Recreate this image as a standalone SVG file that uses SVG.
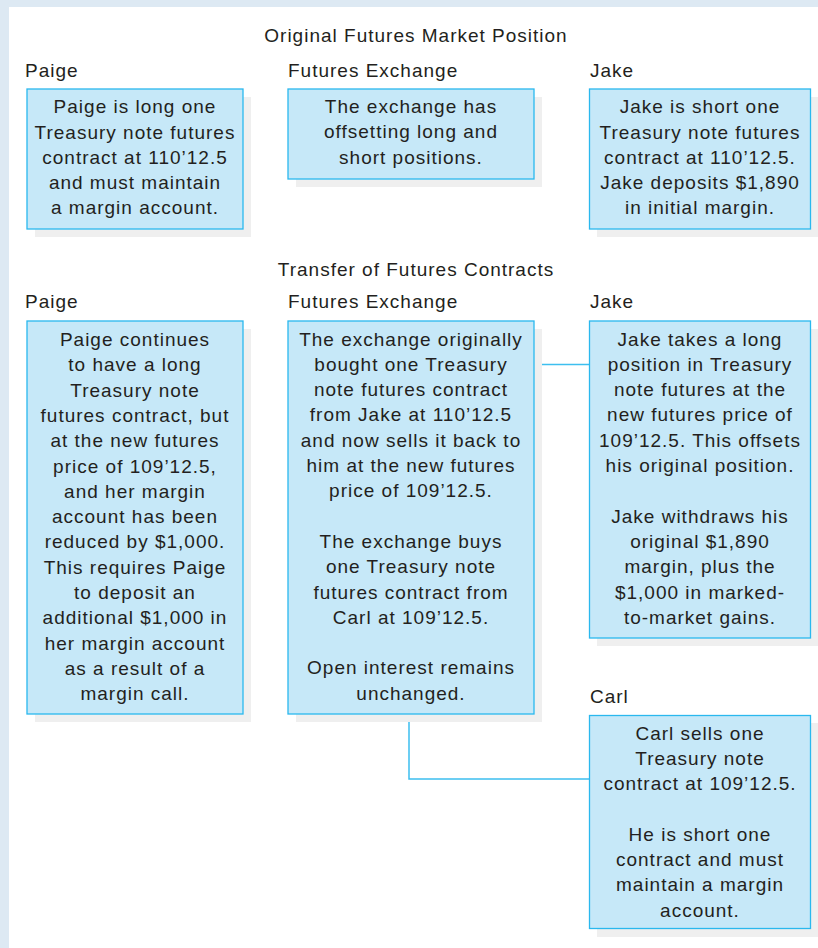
<svg xmlns="http://www.w3.org/2000/svg" width="818" height="948" viewBox="0 0 818 948">
  <defs>
    <style>
      .frame { fill: #dde9f3; }
      .panel { fill: #ffffff; }
      .shadow { fill: #efefef; }
      .box { fill: #c6e8f8; stroke: #2ab8ee; stroke-width: 1.3; }
      .wire { fill: none; stroke: #3dbfef; stroke-width: 1.5; }
      text { font-family: "Liberation Sans", Arial, Helvetica, sans-serif; font-size: 19px; letter-spacing: 1px; fill: #231f20; }
      .mid { text-anchor: middle; }
    </style>
  </defs>

  <!-- outer frame and white panel -->
  <rect class="frame" x="0" y="0" width="818" height="948"/>
  <rect class="panel" x="9" y="7" width="809" height="941"/>

  <!-- section headings -->
  <text class="mid" x="416" y="42">Original Futures Market Position</text>
  <text class="mid" x="416" y="276">Transfer of Futures Contracts</text>

  <!-- connectors -->
  <g id="connectors">
    <path class="wire" d="M534 364.5 H589"/>
    <path class="wire" d="M409 714 V779 H589"/>
  </g>

  <!-- original position -->
  <g id="paige-original">
    <text x="25" y="77">Paige</text>
    <rect class="shadow" x="35" y="97" width="216" height="140"/>
    <rect class="box" x="27" y="89" width="216" height="140"/>
    <text class="mid" x="135" y="113.3">Paige is long one</text>
    <text class="mid" x="135" y="138.5">Treasury note futures</text>
    <text class="mid" x="135" y="163.7">contract at 110’12.5</text>
    <text class="mid" x="135" y="188.9">and must maintain</text>
    <text class="mid" x="135" y="214.1">a margin account.</text>
  </g>

  <g id="exchange-original">
    <text x="288" y="77">Futures Exchange</text>
    <rect class="shadow" x="296" y="97" width="246" height="90"/>
    <rect class="box" x="288" y="89" width="246" height="90"/>
    <text class="mid" x="411" y="113">The exchange has</text>
    <text class="mid" x="411" y="138.3">offsetting long and</text>
    <text class="mid" x="411" y="163.5">short positions.</text>
  </g>

  <g id="jake-original">
    <text x="590" y="77">Jake</text>
    <rect class="shadow" x="597" y="97" width="221" height="140"/>
    <rect class="box" x="589.5" y="89" width="221" height="140"/>
    <text class="mid" x="700" y="113.3">Jake is short one</text>
    <text class="mid" x="700" y="138.5">Treasury note futures</text>
    <text class="mid" x="700" y="163.7">contract at 110’12.5.</text>
    <text class="mid" x="700" y="188.9">Jake deposits $1,890</text>
    <text class="mid" x="700" y="214.1">in initial margin.</text>
  </g>

  <!-- transfer of contracts -->
  <g id="paige-transfer">
    <text x="25" y="308">Paige</text>
    <rect class="shadow" x="35" y="329" width="216" height="393"/>
    <rect class="box" x="27" y="321" width="216" height="393"/>
    <text class="mid" x="135" y="346">Paige continues</text>
    <text class="mid" x="135" y="371.3">to have a long</text>
    <text class="mid" x="135" y="396.6">Treasury note</text>
    <text class="mid" x="135" y="421.9">futures contract, but</text>
    <text class="mid" x="135" y="447.2">at the new futures</text>
    <text class="mid" x="135" y="472.5">price of 109’12.5,</text>
    <text class="mid" x="135" y="497.8">and her margin</text>
    <text class="mid" x="135" y="523.1">account has been</text>
    <text class="mid" x="135" y="548.4">reduced by $1,000.</text>
    <text class="mid" x="135" y="573.7">This requires Paige</text>
    <text class="mid" x="135" y="599">to deposit an</text>
    <text class="mid" x="135" y="624.3">additional $1,000 in</text>
    <text class="mid" x="135" y="649.6">her margin account</text>
    <text class="mid" x="135" y="674.9">as a result of a</text>
    <text class="mid" x="135" y="700.2">margin call.</text>
  </g>

  <g id="exchange-transfer">
    <text x="288" y="308">Futures Exchange</text>
    <rect class="shadow" x="296" y="329" width="246" height="393"/>
    <rect class="box" x="288" y="321" width="246" height="393"/>
    <text class="mid" x="411" y="345.5">The exchange originally</text>
    <text class="mid" x="411" y="370.8">bought one Treasury</text>
    <text class="mid" x="411" y="396.1">note futures contract</text>
    <text class="mid" x="411" y="421.4">from Jake at 110’12.5</text>
    <text class="mid" x="411" y="446.7">and now sells it back to</text>
    <text class="mid" x="411" y="472">him at the new futures</text>
    <text class="mid" x="411" y="497.3">price of 109’12.5.</text>
    <text class="mid" x="411" y="547.9">The exchange buys</text>
    <text class="mid" x="411" y="573.2">one Treasury note</text>
    <text class="mid" x="411" y="598.5">futures contract from</text>
    <text class="mid" x="411" y="623.8">Carl at 109’12.5.</text>
    <text class="mid" x="411" y="674.4">Open interest remains</text>
    <text class="mid" x="411" y="699.7">unchanged.</text>
  </g>

  <g id="jake-transfer">
    <text x="590" y="308">Jake</text>
    <rect class="shadow" x="597" y="329" width="221" height="317"/>
    <rect class="box" x="589.5" y="321" width="221" height="317"/>
    <text class="mid" x="700" y="345.5">Jake takes a long</text>
    <text class="mid" x="700" y="370.8">position in Treasury</text>
    <text class="mid" x="700" y="396.1">note futures at the</text>
    <text class="mid" x="700" y="421.4">new futures price of</text>
    <text class="mid" x="700" y="446.7">109’12.5. This offsets</text>
    <text class="mid" x="700" y="472">his original position.</text>
    <text class="mid" x="700" y="522.6">Jake withdraws his</text>
    <text class="mid" x="700" y="547.9">original $1,890</text>
    <text class="mid" x="700" y="573.2">margin, plus the</text>
    <text class="mid" x="700" y="598.5">$1,000 in marked-</text>
    <text class="mid" x="700" y="623.8">to-market gains.</text>
  </g>

  <g id="carl">
    <text x="590" y="703">Carl</text>
    <rect class="shadow" x="597" y="723" width="221" height="214"/>
    <rect class="box" x="589.5" y="715.5" width="221" height="213"/>
    <text class="mid" x="700" y="739.6">Carl sells one</text>
    <text class="mid" x="700" y="764.9">Treasury note</text>
    <text class="mid" x="700" y="790.2">contract at 109’12.5.</text>
    <text class="mid" x="700" y="840.8">He is short one</text>
    <text class="mid" x="700" y="866.1">contract and must</text>
    <text class="mid" x="700" y="891.4">maintain a margin</text>
    <text class="mid" x="700" y="916.7">account.</text>
  </g>
</svg>
